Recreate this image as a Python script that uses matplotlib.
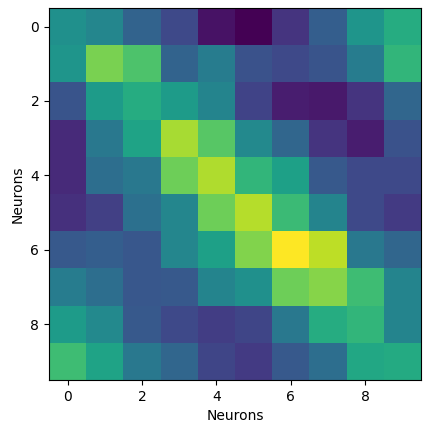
import matplotlib
matplotlib.use("Agg")
import matplotlib.pyplot as plt
import numpy as np

row0 = [0.50, 0.46, 0.32, 0.22, 0.05, 0.00, 0.15, 0.30, 0.52, 0.62]
row1 = [0.52, 0.80, 0.72, 0.32, 0.42, 0.25, 0.22, 0.26, 0.42, 0.66]
row2 = [0.26, 0.55, 0.62, 0.55, 0.45, 0.20, 0.08, 0.07, 0.15, 0.33]
row3 = [0.12, 0.40, 0.58, 0.87, 0.74, 0.47, 0.33, 0.15, 0.08, 0.25]
row4 = [0.12, 0.36, 0.40, 0.78, 0.88, 0.66, 0.57, 0.28, 0.22, 0.22]
row5 = [0.14, 0.19, 0.37, 0.46, 0.78, 0.89, 0.68, 0.45, 0.22, 0.17]
row6 = [0.28, 0.30, 0.27, 0.46, 0.57, 0.81, 1.00, 0.90, 0.40, 0.33]
row7 = [0.42, 0.36, 0.27, 0.28, 0.45, 0.50, 0.78, 0.82, 0.69, 0.45]
row8 = [0.55, 0.47, 0.28, 0.22, 0.18, 0.21, 0.40, 0.62, 0.66, 0.45]
row9 = [0.69, 0.58, 0.40, 0.33, 0.21, 0.17, 0.28, 0.36, 0.60, 0.61]

data = np.array([row0, row1, row2, row3, row4, row5, row6, row7, row8, row9])

fig = plt.figure(figsize=(4.27, 4.32), dpi=100)
ax = fig.add_axes([49/427, 1-380/432, 372/427, 372/432])
ax.imshow(data, cmap="viridis", vmin=0, vmax=1, aspect="auto")
ax.set_xlabel("Neurons")
ax.set_ylabel("Neurons")
fig.savefig("out.png", dpi=100)
